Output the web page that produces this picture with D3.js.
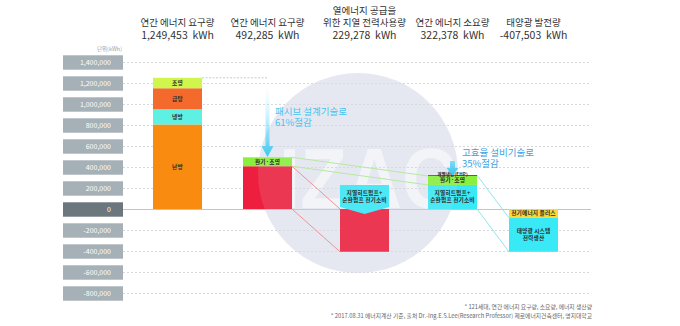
<!DOCTYPE html>
<html>
<head>
<meta charset="utf-8">
<script src="https://cdn.jsdelivr.net/npm/d3@7"></script>
<style>
  html, body { margin: 0; padding: 0; background: #fff; }
  svg { display: block; }
</style>
</head>
<body>
<svg id="chart" width="680" height="326"></svg>
<script>
// ---- data ---------------------------------------------------------------
const stages = ["demand", "passive", "geothermal", "consumption", "solar"];

const headerTitles = [
  ["연간 에너지 요구량"],
  ["연간 에너지 요구량"],
  ["열에너지 공급을", "위한 지열 전력사용량"],
  ["연간 에너지 소요량"],
  ["태양광 발전량"]
];
const headerValues = [1249453, 492285, 229278, 322378, -407503];

// annual demand, by use
const demandLabels = ["난방", "냉방", "급탕", "조명"];
const demandValues = [805000, 145000, 200000, 99453];

// demand after passive design
const passiveLabels = ["냉난방·급탕", "환기·조명"];
const passiveValues = [407285, 85000];

// heat demand moved to the ground-source system
const geoShiftLabels = ["냉난방·급탕"];
const geoShiftValues = [-407285];
const geoLabels = ["지열히트펌프+\n순환펌프 전기소비"];
const geoValues = [229278];

// annual consumption
const consumptionLabels = ["지열히트펌프+\n순환펌프 전기소비", "환기·조명", "개별냉방(EHP)"];
const consumptionValues = [229278, 85000, 8100];

// photovoltaic production
const solarLabels = ["전기에너지 플러스", "태양광 시스템\n전력생산"];
const solarValues = [-85125, -322378];

const yTicks = [1400000, 1200000, 1000000, 800000, 600000, 400000, 200000, 0,
                -200000, -400000, -600000, -800000];

const notes = [
  "* 121세대, 연간 에너지 요구량, 소요량, 에너지 생산량",
  "* 2017.08.31 에너지계산 기준, 출처 Dr.-Ing.E.S.Lee(Research Professor) 제로에너지건축센터, 명지대학교"
];

// ---- styles -------------------------------------------------------------
const FONT = "'Noto Sans CJK KR', 'Noto Sans', sans-serif";
const fills = {
  "난방": "#f98c10",
  "냉방": "#5ef0e2",
  "급탕": "#f46a2c",
  "조명": "#d0f54c",
  "냉난방·급탕": "#ee1f3e",
  "환기·조명": "#88ef3c",
  "지열히트펌프+\n순환펌프 전기소비": "#3ae9f6",
  "개별냉방(EHP)": "#3b414c",
  "전기에너지 플러스": "#f9d93a",
  "태양광 시스템\n전력생산": "#3ae9f6"
};
const hiddenLabels = new Set(["냉난방·급탕"]);

// ---- scales -------------------------------------------------------------
const svg = d3.select("#chart").style("font-family", FONT);
const y = d3.scaleLinear().domain([-800000, 1400000]).range([293, 62]);
const x = d3.scaleOrdinal().domain(stages).range([177.5, 267.5, 364.5, 452.5, 533.5]);
const barW = 49;
const gridLeft = 123, gridRight = 591;

const fmt = d => (d < 0 ? "-" : "") + d3.format(",")(Math.abs(d));

function stack(stage, labels, values) {
  let acc = 0;
  return labels.map((label, i) => {
    const v0 = acc;
    acc += values[i];
    return { stage, label, v0, v1: acc };
  });
}

const segments = [
  ...stack("demand", demandLabels, demandValues),
  ...stack("passive", passiveLabels, passiveValues),
  ...stack("geothermal", geoShiftLabels, geoShiftValues),
  ...stack("consumption", consumptionLabels, consumptionValues),
  ...stack("solar", solarLabels, solarValues)
];
const geoSegments = stack("geothermal", geoLabels, geoValues);

// ---- watermark ------------------------------------------------------------
svg.append("circle").attr("cx", 358).attr("cy", 173).attr("r", 100).attr("fill", "#e7e9f2");
svg.append("text").attr("x", 368).attr("y", 208).attr("text-anchor", "middle")
  .attr("font-family", "'Liberation Sans', Arial, sans-serif").attr("font-weight", 700)
  .attr("font-size", 86).attr("textLength", 178).attr("lengthAdjust", "spacingAndGlyphs")
  .attr("fill", "#fff").attr("opacity", 0.6).text("IZAC");

// ---- grid ---------------------------------------------------------------
const grid = svg.append("g").attr("transform", `translate(${gridLeft},0)`)
  .call(d3.axisRight(y).tickValues(yTicks).tickSize(gridRight - gridLeft).tickFormat(""));
grid.select(".domain").remove();
grid.selectAll(".tick line")
  .attr("stroke", d => d === 0 ? "#c2c4c8" : "#d6d8dc")
  .attr("stroke-width", d => d === 0 ? 1.2 : 1)
  .attr("stroke-dasharray", d => d === 0 ? null : "2,2");

// ---- y axis labels on boxes ---------------------------------------------
const yAxis = svg.append("g").attr("transform", "translate(111,0)")
  .call(d3.axisLeft(y).tickValues(yTicks).tickSize(0).tickPadding(0).tickFormat(fmt))
  .attr("font-family", FONT).attr("font-size", 7);
yAxis.select(".domain").remove();
yAxis.selectAll(".tick").insert("rect", "text")
  .attr("x", -48).attr("y", -7.2).attr("width", 60).attr("height", 14.4)
  .attr("fill", d => d === 0 ? "#6c767d" : "#a5b0b7");
yAxis.selectAll(".tick text").attr("fill", "#fff");

svg.append("text").attr("x", 122).attr("y", 50.5).attr("text-anchor", "end")
  .attr("font-size", 5.5).attr("fill", "#9aa0a6").text("단위(kWh)");

// ---- connectors ---------------------------------------------------------
const right = s => x(s) + barW / 2;
const left = s => x(s) - barW / 2;
const links = [
  { a: "demand", va: 1249453, b: "passive", vb: 1249453, color: "#c8cacd", dash: "2,1.5", toCenter: true },
  { a: "passive", va: 492285, b: "consumption", vb: 314278, color: "#b2ea96" },
  { a: "passive", va: 407285, b: "consumption", vb: 229278, color: "#b2ea96" },
  { a: "passive", va: 407285, b: "geothermal", vb: 0, color: "#f08a8a" },
  { a: "passive", va: 0, b: "geothermal", vb: -407285, color: "#f08a8a" },
  { a: "consumption", va: 322378, b: "solar", vb: -85125, color: "#8fe6ee" },
  { a: "consumption", va: 0, b: "solar", vb: -407503, color: "#8fe6ee" }
];
svg.append("g").selectAll("line").data(links).join("line")
  .attr("x1", d => right(d.a)).attr("y1", d => y(d.va))
  .attr("x2", d => d.toCenter ? x(d.b) : left(d.b)).attr("y2", d => y(d.vb))
  .attr("stroke", d => d.color).attr("stroke-width", 1)
  .attr("stroke-dasharray", d => d.dash || null);

// ---- bars ---------------------------------------------------------------
const bars = svg.append("g");
bars.selectAll("rect").data(segments).join("rect")
  .attr("x", d => left(d.stage)).attr("width", barW)
  .attr("y", d => y(Math.max(d.v0, d.v1)))
  .attr("height", d => Math.abs(y(d.v0) - y(d.v1)))
  .attr("fill", d => fills[d.label]);

// geothermal pump consumption box, pointing into the shifted heat demand
bars.selectAll("path.geo").data(geoSegments).join("path").attr("class", "geo")
  .attr("d", d => {
    const x0 = left(d.stage), x1 = right(d.stage), xc = x(d.stage);
    const top = y(d.v1), bot = y(d.v0);
    return `M${x0},${top}H${x1}V${bot - 2}L${xc},${bot + 5}L${x0},${bot - 2}Z`;
  })
  .attr("fill", d => fills[d.label]);

// faint wash of the watermark disc over the bars
svg.append("circle").attr("cx", 358).attr("cy", 173).attr("r", 100)
  .attr("fill", "#dfe3f0").attr("opacity", 0.12).attr("pointer-events", "none");

// ---- bar labels ---------------------------------------------------------
const labelled = segments.concat(geoSegments).filter(d => !hiddenLabels.has(d.label));
const lbl = svg.append("g").attr("font-weight", 700)
  .attr("fill", "#2a2a2a").attr("text-anchor", "middle").attr("letter-spacing", 0.15);
labelled.forEach(d => {
  const lines = d.label.split("\n");
  const small = d.label === "개별냉방(EHP)";
  let cy = (y(d.v0) + y(d.v1)) / 2;
  if (small) cy -= 1.2;
  const t = lbl.append("text").attr("x", x(d.stage)).attr("font-size", small ? 4.5 : 5.7);
  lines.forEach((s, i) => {
    t.append("tspan").attr("x", x(d.stage))
      .attr("y", cy + (i - (lines.length - 1) / 2) * 7 + (small ? 1.5 : 2)).text(s);
  });
});

// ---- reduction arrows ---------------------------------------------------
const defs = svg.append("defs");
const g1 = defs.append("linearGradient").attr("id", "arrowFade").attr("x1", 0).attr("y1", 0).attr("x2", 0).attr("y2", 1);
g1.append("stop").attr("offset", 0).attr("stop-color", "#c6f2ff").attr("stop-opacity", 0);
g1.append("stop").attr("offset", 1).attr("stop-color", "#36c8f2");
const g2 = defs.append("linearGradient").attr("id", "arrowFade2").attr("x1", 0).attr("y1", 0).attr("x2", 0).attr("y2", 1);
g2.append("stop").attr("offset", 0).attr("stop-color", "#7fdcf8");
g2.append("stop").attr("offset", 1).attr("stop-color", "#36c2f0");

function arrowPath(cx, top, headY, tip, shaftW, headW) {
  return `M${cx - shaftW / 2},${top}H${cx + shaftW / 2}V${headY}H${cx + headW / 2}L${cx},${tip}L${cx - headW / 2},${headY}H${cx - shaftW / 2}Z`;
}
svg.append("path").attr("d", arrowPath(x("passive"), 86, 146, 157, 4, 12)).attr("fill", "url(#arrowFade)");
svg.append("path").attr("d", arrowPath(x("consumption"), 161, 168, 175.5, 5, 12)).attr("fill", "url(#arrowFade2)");

const notesA = svg.append("g").attr("font-size", 9.5).attr("fill", "#45c4f0");
notesA.append("text").attr("x", 275).attr("y", 114.5).text("패시브 설계기술로");
notesA.append("text").attr("x", 275).attr("y", 126).text("61%절감");
const notesB = svg.append("g").attr("font-size", 9.5).attr("fill", "#3aa2e4");
notesB.append("text").attr("x", 462).attr("y", 155.5).text("고효율 설비기술로");
notesB.append("text").attr("x", 462).attr("y", 167).text("35%절감");

// ---- column headers -----------------------------------------------------
const head = svg.append("g").attr("text-anchor", "middle").attr("fill", "#333");
stages.forEach((s, i) => {
  const lines = headerTitles[i];
  lines.forEach((t, j) => {
    head.append("text").attr("x", x(s)).attr("y", 26 - (lines.length - 1 - j) * 12.5)
      .attr("font-size", 9.5).text(t);
  });
  head.append("text").attr("x", x(s)).attr("y", 38.5).attr("font-size", 10.5)
    .style("white-space", "pre").text(fmt(headerValues[i]) + "  kWh");
});

// ---- footnotes ----------------------------------------------------------
svg.append("g").attr("font-size", 5.8).attr("fill", "#666").attr("text-anchor", "end")
  .selectAll("text").data(notes).join("text")
  .attr("x", 592).attr("y", (d, i) => 309 + i * 9).text(d => d);
</script>
</body>
</html>
